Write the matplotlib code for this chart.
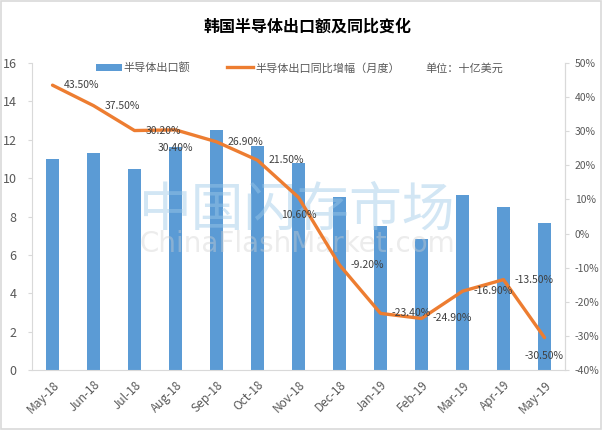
import matplotlib
matplotlib.use("Agg")
import matplotlib.pyplot as plt
from matplotlib.patches import Rectangle, Patch
from matplotlib.lines import Line2D
from matplotlib.ticker import FuncFormatter, MultipleLocator

plt.rcParams['font.family'] = ['Noto Sans CJK SC', 'DejaVu Sans']

months = ["May-18", "Jun-18", "Jul-18", "Aug-18", "Sep-18", "Oct-18", "Nov-18",
          "Dec-18", "Jan-19", "Feb-19", "Mar-19", "Apr-19", "May-19"]
exports = [11.0, 11.3, 10.5, 11.6, 12.5, 11.7, 10.8, 9.0, 7.5, 6.85, 9.1, 8.5, 7.65]
yoy = [43.5, 37.5, 30.2, 30.4, 26.9, 21.5, 10.6, -9.2, -23.4, -24.9, -16.9, -13.5, -30.5]
label_pos = ["right", "right", "right", "below", "right", "right", "below",
             "right", "right", "right", "right", "right", "below"]

title = "韩国半导体出口额及同比变化"
bar_name = "半导体出口额"
line_name = "半导体出口同比增幅（月度）"
unit_text = "单位：十亿美元"

BAR = "#5b9bd5"
LINE = "#ed7d31"
GRAY = "#595959"
AXC = "#d9d9d9"

W, H = 603, 430
fig = plt.figure(figsize=(W / 100, H / 100), dpi=100)
fig.patches.append(Rectangle((0.002, 0.003), 0.995, 0.994, transform=fig.transFigure,
                             fill=False, edgecolor=AXC, linewidth=1.2))

ax = fig.add_axes([32 / W, 1 - 370 / H, 533 / W, 307 / H])
x = list(range(len(months)))
ax.bar(x, exports, width=0.32, color=BAR, zorder=2)
ax.set_xlim(-0.5, len(months) - 0.5)
ax.set_ylim(0, 16)
ax.yaxis.set_major_locator(MultipleLocator(2))
ax.set_xticks(x)
ax.set_xticklabels(months, rotation=45, ha='right', va='top', rotation_mode='anchor',
                   fontsize=8.5, color=GRAY)
ax.tick_params(axis='x', length=0, pad=6)
ax.tick_params(axis='y', length=3, color=AXC, labelsize=9, labelcolor=GRAY, pad=8)
for s in ['top']:
    ax.spines[s].set_visible(False)
for s in ['left', 'right', 'bottom']:
    ax.spines[s].set_color(AXC)

ax2 = ax.twinx()
ax2.set_ylim(-40, 50)
ax2.yaxis.set_major_locator(MultipleLocator(10))
ax2.yaxis.set_major_formatter(FuncFormatter(lambda v, p: f"{v:.0f}%"))
ax2.tick_params(axis='y', length=3, color=AXC, labelsize=7.5, labelcolor=GRAY, pad=4)
for s in ['top', 'left', 'bottom']:
    ax2.spines[s].set_visible(False)
ax2.spines['right'].set_color(AXC)

# watermark
ax2.text(0.497, 0.52, "中国闪存市场", transform=ax.transAxes, fontsize=38, color="#9cc8e8",
         alpha=0.45, ha='center', va='center', zorder=3, style='italic')
ax2.text(0.497, 0.41, "ChinaFlashMarket.com", transform=ax.transAxes, fontsize=20,
         color="#d0d0d0", alpha=0.4, ha='center', va='center', zorder=3,
         family=['DejaVu Sans'])

ax2.plot(x, yoy, color=LINE, linewidth=2.4, zorder=4, solid_capstyle='round')
for xi, v, pos in zip(x, yoy, label_pos):
    if pos == "right":
        ax2.annotate(f"{v:.2f}%", (xi, v), xytext=(11, 0), textcoords='offset pixels',
                     ha='left', va='center', fontsize=7.5, color="#404040", zorder=5)
    else:
        ax2.annotate(f"{v:.2f}%", (xi, v), xytext=(0, -18), textcoords='offset pixels',
                     ha='center', va='center', fontsize=7.5, color="#404040", zorder=5)

fig.text(308 / W, 1 - 27 / H, title, ha='center', va='center', fontsize=11.5,
         fontweight='bold', color='black')

handles = [Patch(facecolor=BAR, edgecolor='none'),
           Line2D([0], [0], color=LINE, linewidth=2.4)]
leg = fig.legend(handles, [bar_name, line_name], loc='center left',
                 bbox_to_anchor=(96 / W, 1 - 68 / H), ncol=2, frameon=False,
                 fontsize=8, borderpad=0, borderaxespad=0, handlelength=2.3,
                 handleheight=0.7, handletextpad=0.2, columnspacing=3.3)
for t in leg.get_texts():
    t.set_color(GRAY)
fig.text(425 / W, 1 - 68 / H, unit_text, ha='left', va='center', fontsize=8, color=GRAY)

fig.savefig("out.png", dpi=100)
